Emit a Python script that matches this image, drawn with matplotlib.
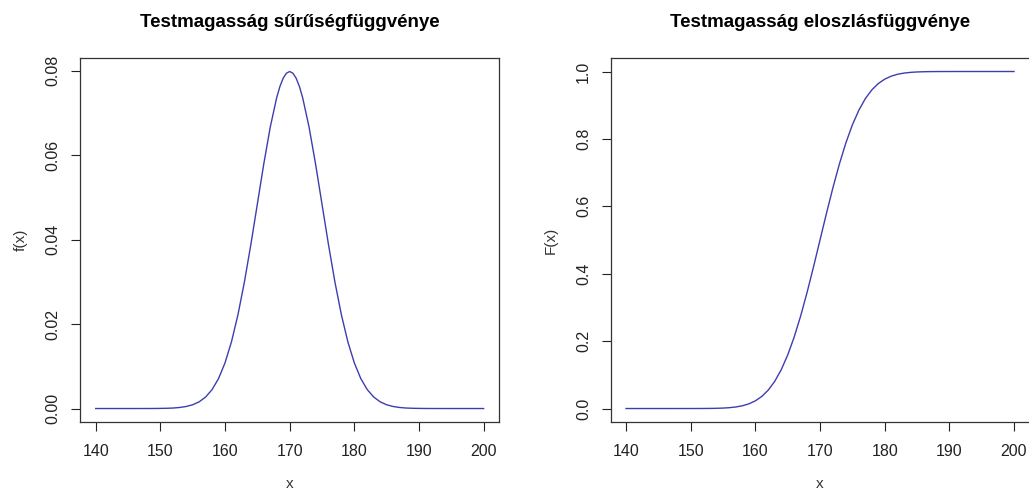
import matplotlib.pyplot as plt

plt.rcParams['font.family'] = ['Liberation Sans', 'DejaVu Sans']

# testmagassag (cm)
heights = list(range(140, 169)) + [168.5, 169, 169.5, 170, 170.5, 171, 171.5] + list(range(172, 201))

# surusegfuggveny ertekei
density = [
    0.00000, 0.00000, 0.00000, 0.00000, 0.00000, 0.00000, 0.00000, 0.000002, 0.000005, 0.000012,
    0.00003, 0.00006, 0.00012, 0.00025, 0.00048, 0.00089, 0.00158, 0.00272, 0.00448, 0.00709,
    0.01080, 0.01579, 0.02218, 0.02995, 0.03884, 0.04839, 0.05794, 0.06664, 0.07365,
    0.07628, 0.07821, 0.07939, 0.07979, 0.07939, 0.07821, 0.07628,
    0.07365, 0.06664, 0.05794, 0.04839, 0.03884, 0.02995, 0.02218, 0.01579, 0.01080,
    0.00709, 0.00448, 0.00272, 0.00158, 0.00089, 0.00048, 0.00025, 0.00012, 0.00006, 0.00003,
    0.000012, 0.000005, 0.000002, 0.00000, 0.00000, 0.00000, 0.00000, 0.00000, 0.00000, 0.00000,
]

# eloszlasfuggveny ertekei
cdf_x = list(range(140, 201))
cdf = [
    0.00000, 0.00000, 0.00000, 0.00000, 0.00000, 0.00000, 0.00000, 0.000002, 0.000005, 0.000013,
    0.00003, 0.00007, 0.00016, 0.00034, 0.00069, 0.00135, 0.00256, 0.00466, 0.00820, 0.01390,
    0.02275, 0.03593, 0.05480, 0.08076, 0.11507, 0.15866, 0.21186, 0.27425, 0.34458, 0.42074,
    0.50000,
    0.57926, 0.65542, 0.72575, 0.78814, 0.84134, 0.88493, 0.91924, 0.94520, 0.96407, 0.97725,
    0.98610, 0.99180, 0.99534, 0.99744, 0.99865, 0.99931, 0.99966, 0.99984, 0.99993, 0.99997,
    1.00000, 1.00000, 1.00000, 1.00000, 1.00000, 1.00000, 1.00000, 1.00000, 1.00000, 1.00000,
]

xticks = [140, 150, 160, 170, 180, 190, 200]
dens_ticks = [0.00, 0.02, 0.04, 0.06, 0.08]
dens_labels = ['0.00', '0.02', '0.04', '0.06', '0.08']
cdf_ticks = [0.0, 0.2, 0.4, 0.6, 0.8, 1.0]
cdf_labels = ['0.0', '0.2', '0.4', '0.6', '0.8', '1.0']

LINE = '#3d3db0'

fig = plt.figure(figsize=(10.29, 4.93), dpi=100)
ax1 = fig.add_axes([0.0779, 0.144, 0.4072, 0.7383])
ax2 = fig.add_axes([0.5933, 0.144, 0.4072, 0.7383])


def r_style(ax, x, y, yticks, ylabels, title, ylabel):
    ax.plot(x, y, color=LINE, lw=1.0)
    ax.set_xlim(137.6, 202.4)
    span = max(y) - min(y)
    ax.set_ylim(min(y) - 0.04 * span, max(y) + 0.04 * span)
    ax.set_xticks(xticks)
    ax.set_yticks(yticks)
    ax.set_yticklabels(ylabels, rotation=90, va='center')
    ax.tick_params(direction='out', length=6.5, width=0.8, labelsize=11.5,
                   colors='#222222', pad=9)
    ax.tick_params(axis='y', pad=7.5)
    for s in ax.spines.values():
        s.set_linewidth(0.9)
        s.set_color('#333333')
    ax.set_title(title, fontsize=13.5, fontweight='bold', pad=22)
    ax.set_xlabel('x', fontsize=11, color='#333333', labelpad=13)
    ax.set_ylabel(ylabel, fontsize=11, color='#333333', labelpad=13)


r_style(ax1, heights, density, dens_ticks, dens_labels,
        'Testmagasság sűrűségfüggvénye', 'f(x)')
r_style(ax2, cdf_x, cdf, cdf_ticks, cdf_labels,
        'Testmagasság eloszlásfüggvénye', 'F(x)')

fig.savefig('out.png', dpi=100)
